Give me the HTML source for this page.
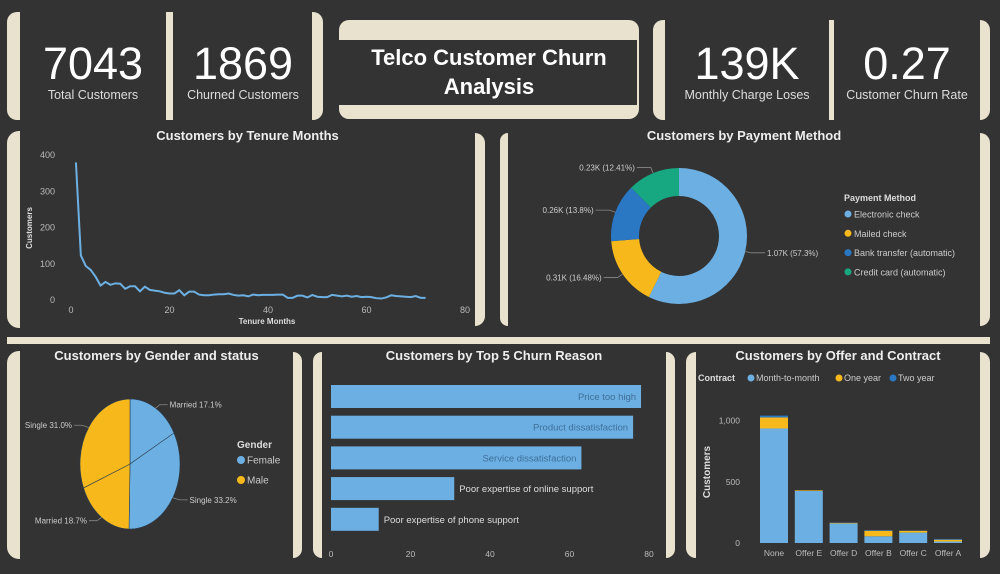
<!DOCTYPE html>
<html><head><meta charset="utf-8">
<style>
html,body{margin:0;padding:0;background:#333333;}
body{width:1000px;height:574px;position:relative;overflow:hidden;font-family:"Liberation Sans",sans-serif;color:#fff;}
.cr{position:absolute;background:#e9e2cf;}
.kn{position:absolute;font-size:45px;text-align:center;color:#fff;}
.kl{position:absolute;font-size:12.5px;text-align:center;color:#ddd;}
.t{position:absolute;font-size:13px;font-weight:bold;text-align:center;color:#eee;}
svg{position:absolute;left:0;top:0;}
</style></head><body>
<div class="cr" style="left:7px;top:12px;width:13px;height:108px;border-radius:10px 0 0 10px"></div>
<div class="cr" style="left:166px;top:12px;width:7px;height:108px"></div>
<div class="cr" style="left:312px;top:12px;width:11px;height:108px;border-radius:0 10px 10px 0"></div>
<div class="cr" style="left:339px;top:20px;width:300px;height:99px;border-radius:10px"></div>
<div style="position:absolute;left:339px;top:40px;width:298px;height:65px;background:#333"></div>
<div class="t" style="left:339px;top:43px;width:300px;font-size:22px;line-height:29px;color:#fff">Telco Customer Churn<br>Analysis</div>
<div class="cr" style="left:653px;top:20px;width:12px;height:100px;border-radius:10px 0 0 10px"></div>
<div class="cr" style="left:829px;top:20px;width:5px;height:100px"></div>
<div class="cr" style="left:980px;top:20px;width:10px;height:100px;border-radius:0 10px 10px 0"></div>

<div class="kn" style="left:22px;top:38px;width:142px">7043</div>
<div class="kl" style="left:22px;top:88px;width:142px">Total Customers</div>
<div class="kn" style="left:172px;top:38px;width:142px">1869</div>
<div class="kl" style="left:172px;top:88px;width:142px">Churned Customers</div>
<div class="kn" style="left:665px;top:38px;width:164px">139K</div>
<div class="kl" style="left:665px;top:88px;width:164px">Monthly Charge Loses</div>
<div class="kn" style="left:834px;top:38px;width:146px">0.27</div>
<div class="kl" style="left:834px;top:88px;width:146px">Customer Churn Rate</div>

<div class="cr" style="left:7px;top:131px;width:13px;height:197px;border-radius:12px 0 0 12px"></div>
<div class="cr" style="left:475px;top:133px;width:10px;height:193px;border-radius:0 10px 10px 0"></div>
<div class="cr" style="left:500px;top:133px;width:8px;height:193px;border-radius:10px 0 0 10px"></div>
<div class="cr" style="left:980px;top:133px;width:10px;height:193px;border-radius:0 10px 10px 0"></div>
<div class="cr" style="left:7px;top:337px;width:983px;height:7px"></div>
<div class="cr" style="left:7px;top:351px;width:13px;height:208px;border-radius:12px 0 0 12px"></div>
<div class="cr" style="left:293px;top:352px;width:9px;height:206px;border-radius:0 10px 10px 0"></div>
<div class="cr" style="left:313px;top:352px;width:9px;height:206px;border-radius:10px 0 0 10px"></div>
<div class="cr" style="left:666px;top:352px;width:9px;height:206px;border-radius:0 10px 10px 0"></div>
<div class="cr" style="left:686px;top:352px;width:10px;height:206px;border-radius:10px 0 0 10px"></div>
<div class="cr" style="left:980px;top:352px;width:10px;height:206px;border-radius:0 10px 10px 0"></div>

<div class="t" style="left:20px;top:128px;width:455px">Customers by Tenure Months</div>
<div class="t" style="left:508px;top:128px;width:472px">Customers by Payment Method</div>
<div class="t" style="left:20px;top:348px;width:273px">Customers by Gender and status</div>
<div class="t" style="left:322px;top:348px;width:344px">Customers by Top 5 Churn Reason</div>
<div class="t" style="left:696px;top:348px;width:284px">Customers by Offer and Contract</div>

<svg id="chart" width="1000" height="574" font-family="Liberation Sans, sans-serif"></svg>

<script>
const tenureMonths=[1,2,3,4,5,6,7,8,9,10,11,12,13,14,15,16,17,18,19,20,21,22,23,24,25,26,27,28,29,30,31,32,33,34,35,36,37,38,39,40,41,42,43,44,45,46,47,48,49,50,51,52,53,54,55,56,57,58,59,60,61,62,63,64,65,66,67,68,69,70,71,72];
const tenureCustomers=[380,123,94,83,64,40,50,42,46,45,31,38,38,24,37,28,26,24,20,18,18,27,13,23,23,15,13,13,15,16,16,18,14,12,13,10,15,13,14,14,14,15,15,6,6,12,12,7,14,9,8,8,14,12,10,12,9,11,8,9,8,5,4,7,13,11,10,9,8,11,6,6];
const tenureXTicks=[0,20,40,60,80];
const tenureYTicks=[0,100,200,300,400];
const payCats=["Electronic check","Mailed check","Bank transfer (automatic)","Credit card (automatic)"];
const payVals=[1071,308,258,232];
const payLabels=["1.07K (57.3%)","0.31K (16.48%)","0.26K (13.8%)","0.23K (12.41%)"];
const payColors=["#6cb0e3","#f6b81b","#2a78c4","#17a882"];
const genderSlices=["Married","Single","Married","Single"];
const genderGroup=["Female","Female","Male","Male"];
const genderVals=[17.1,33.2,18.7,31.0];
const reasonCats=["Price too high","Product dissatisfaction","Service dissatisfaction","Poor expertise of online support","Poor expertise of phone support"];
const reasonVals=[78,76,63,31,12];
const reasonTicks=[0,20,40,60,80];
const offerCats=["None","Offer E","Offer D","Offer B","Offer C","Offer A"];
const offerM2M=[935,425,160,55,85,12];
const offerOne=[90,5,5,45,15,15];
const offerTwo=[15,0,2,5,2,6];
const offerTicks=[0,500,1000];
const offerTickLabels=["0","500","1,000"];

const svg=document.getElementById('chart');
const NS='http://www.w3.org/2000/svg';
function mk(tag,attrs,parent){const e=document.createElementNS(NS,tag);for(const k in attrs)e.setAttribute(k,attrs[k]);(parent||svg).appendChild(e);return e;}
function txt(x,y,s,attrs){const e=mk('text',Object.assign({x:x,y:y,fill:'#bbb','font-size':9},attrs||{}));e.textContent=s;return e;}

const tx=v=>71+v*(465-71)/80, ty=v=>300-v*0.362;
tenureXTicks.forEach(v=>{const t=txt(tx(v),313,String(v),{'text-anchor':'middle'});

});
tenureYTicks.forEach(v=>{const t=txt(55,ty(v)+3,String(v),{'text-anchor':'end'});

});
let tl=txt(267,324,'Tenure Months',{'text-anchor':'middle','font-weight':'bold','font-size':8,fill:'#ddd'});


tl=txt(0,0,'Customers',{'text-anchor':'middle','font-weight':'bold','font-size':8,fill:'#ddd',transform:'translate(32,228) rotate(-90)'});


const tline=mk('polyline',{points:tenureMonths.map((m,i)=>tx(m)+','+ty(tenureCustomers[i])).join(' '),fill:'none',stroke:'#6cb0e3','stroke-width':2});



const cx=679,cy=236,R=68,r=40;
const payTot=payVals.reduce((a,b)=>a+b,0);
let a0=-Math.PI/2;
payVals.forEach((v,i)=>{
  const a1=a0+v/payTot*2*Math.PI, lg=(a1-a0)>Math.PI?1:0;
  const p=(a,rr)=>(cx+rr*Math.cos(a))+','+(cy+rr*Math.sin(a));
  const d='M'+p(a0,R)+' A'+R+','+R+' 0 '+lg+' 1 '+p(a1,R)+' L'+p(a1,r)+' A'+r+','+r+' 0 '+lg+' 0 '+p(a0,r)+' Z';
  const s=mk('path',{d:d,fill:payColors[i]});
  
  
  const am=(a0+a1)/2, ex=cx+(R+6)*Math.cos(am), ey=cy+(R+6)*Math.sin(am);
  const right=Math.cos(am)>0, lx=right?ex+14:ex-14;
  const ll=mk('polyline',{points:(cx+R*Math.cos(am))+','+(cy+R*Math.sin(am))+' '+ex+','+ey+' '+lx+','+ey,fill:'none',stroke:'#888','stroke-width':0.8});
  
  
  const t=txt(right?lx+2:lx-2,ey+3,payLabels[i],{'text-anchor':right?'start':'end','font-size':8,fill:'#ccc'});
  
  
  a0=a1;
});
tl=txt(844,201,'Payment Method',{'font-weight':'bold','font-size':9,fill:'#ddd'});


payCats.forEach((c,i)=>{
  const y=214+i*19.3;
  const d=mk('circle',{cx:848,cy:y,r:3.5,fill:payColors[i]});
  
  
  const t=txt(854,y+3.5,c,{'font-size':9,fill:'#ccc'});
  
  
});

const gx=130,gy=464,grx=50,gry=65;
const gTot=genderVals.reduce((a,b)=>a+b,0);
const gCol={Female:'#6cb0e3',Male:'#f6b81b'};
let b0=-Math.PI/2;
genderVals.forEach((v,i)=>{
  const b1=b0+v/gTot*2*Math.PI, lg=(b1-b0)>Math.PI?1:0;
  const p=a=>(gx+grx*Math.cos(a))+','+(gy+gry*Math.sin(a));
  const s=mk('path',{d:'M'+gx+','+gy+' L'+p(b0)+' A'+grx+','+gry+' 0 '+lg+' 1 '+p(b1)+' Z',fill:gCol[genderGroup[i]],stroke:'#2c3e50','stroke-width':0.6});
  
  
  const am=(b0+b1)/2;
  const ex=gx+(grx+8)*Math.cos(am), ey=gy+(gry+4)*Math.sin(am);
  const right=Math.cos(am)>0, lx=right?ex+8:ex-8;
  const ll=mk('polyline',{points:(gx+grx*Math.cos(am))+','+(gy+gry*Math.sin(am))+' '+ex+','+ey+' '+lx+','+ey,fill:'none',stroke:'#888','stroke-width':0.8});
  
  
  const t=txt(right?lx+2:lx-2,ey+3,genderSlices[i]+' '+v.toFixed(1)+'%',{'text-anchor':right?'start':'end','font-size':8,fill:'#ccc'});
  
  
  b0=b1;
});
tl=txt(237,448,'Gender',{'font-weight':'bold','font-size':10,fill:'#ddd'});


["Female","Male"].forEach((g,i)=>{
  const y=460+i*20;
  const d=mk('circle',{cx:241,cy:y,r:4,fill:gCol[g]});
  
  
  const t=txt(247,y+3.5,g,{'font-size':10,fill:'#ccc'});
  
  
});

const rx=v=>331+v*(649-331)/80;
reasonCats.forEach((c,i)=>{
  const y=385+i*30.7, w=rx(reasonVals[i])-rx(0);
  const b=mk('rect',{x:rx(0),y:y,width:w,height:23,fill:'#6cb0e3'});
  
  
  const inside=w>200;
  const t=txt(inside?rx(reasonVals[i])-5:rx(reasonVals[i])+5,y+15,c,{'text-anchor':inside?'end':'start','font-size':9.5,fill:inside?'#3f6f99':'#ddd'});
  
  
});
reasonTicks.forEach(v=>{const t=txt(rx(v),557,String(v),{'text-anchor':'middle','font-size':8.5});

});

const oy=v=>543-v*0.1225;
const obx=i=>760+i*34.8;
offerTicks.forEach((v,i)=>{const t=txt(740,oy(v)+3,offerTickLabels[i],{'text-anchor':'end','font-size':8.5});

});
tl=txt(0,0,'Customers',{'text-anchor':'middle','font-weight':'bold','font-size':10,fill:'#ddd',transform:'translate(710,472) rotate(-90)'});


const segCols=['#6cb0e3','#f6b81b','#2a78c4'];
offerCats.forEach((c,i)=>{
  let base=0;
  [offerM2M[i],offerOne[i],offerTwo[i]].forEach((v,k)=>{
    if(v<=0)return;
    const r=mk('rect',{x:obx(i),y:oy(base+v),width:28,height:oy(base)-oy(base+v),fill:segCols[k]});
    
    
    base+=v;
  });
  const t=txt(obx(i)+14,556,c,{'text-anchor':'middle','font-size':8.5});
  
  
});
tl=txt(698,381,'Contract',{'font-weight':'bold','font-size':9,fill:'#ddd'});


[["Month-to-month",751],["One year",839],["Two year",893]].forEach((e,k)=>{
  const d=mk('circle',{cx:e[1],cy:378,r:3.5,fill:segCols[k]});
  
  
  const t=txt(e[1]+5,381,e[0],{'font-size':9,fill:'#ccc'});
  
  
});
</script>
</body></html>
